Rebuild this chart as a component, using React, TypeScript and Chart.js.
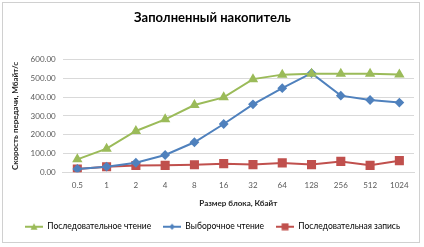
import React, { useEffect, useRef } from "react";
import { Chart, registerables } from "chart.js";

Chart.register(...registerables);

const categories = ["0.5", "1", "2", "4", "8", "16", "32", "64", "128", "256", "512", "1024"];
const seqRead = [69, 126, 220, 282, 358, 399, 496, 520, 525, 525, 525, 521];
const randRead = [18, 30, 51, 92, 160, 257, 362, 448, 528, 408, 385, 371];
const seqWrite = [18, 30, 36, 37, 40, 46, 41, 50, 41, 58, 37, 62];
const seriesNames = ["Последовательное чтение", "Выборочное чтение", "Последовательная запись"];
const chartTitle = "Заполненный накопитель";
const xTitle = "Размер блока, Кбайт";
const yTitle = "Скорость передачи, Мбайт/с";

const GREEN = "#9BBB59";
const BLUE = "#4F81BD";
const RED = "#C0504D";
const FONT = "Lato, 'Open Sans', sans-serif";

function legendIcon(color: string, style: string): HTMLCanvasElement {
  const c = document.createElement("canvas");
  c.width = 18;
  c.height = 8;
  const ctx = c.getContext("2d")!;
  ctx.strokeStyle = color;
  ctx.fillStyle = color;
  ctx.lineWidth = 2;
  ctx.beginPath();
  ctx.moveTo(0, 4);
  ctx.lineTo(18, 4);
  ctx.stroke();
  ctx.beginPath();
  if (style === "triangle") {
    ctx.moveTo(9, 0.5);
    ctx.lineTo(12.5, 7);
    ctx.lineTo(5.5, 7);
  } else if (style === "rectRot") {
    ctx.moveTo(9, 1);
    ctx.lineTo(12, 4);
    ctx.lineTo(9, 7);
    ctx.lineTo(6, 4);
  } else {
    ctx.rect(5.5, 0.5, 7, 7);
  }
  ctx.closePath();
  ctx.fill();
  return c;
}

const borderPlugin = {
  id: "outerBorder",
  beforeDraw(chart: any) {
    const ctx = chart.ctx;
    ctx.save();
    ctx.fillStyle = "#ffffff";
    ctx.fillRect(0, 0, chart.width, chart.height);
    ctx.strokeStyle = "#d0d0d0";
    ctx.lineWidth = 1;
    ctx.strokeRect(2.5, 2.5, 417, 240);
    ctx.restore();
  },
};

export default function App() {
  const ref = useRef<HTMLCanvasElement>(null);
  useEffect(() => {
    document.body.style.margin = "0";
    const styles = ["triangle", "rectRot", "rect"];
    const colors = [GREEN, BLUE, RED];
    const icons = colors.map((c, i) => legendIcon(c, styles[i]));
    const chart = new Chart(ref.current!, {
      type: "line",
      data: {
        labels: categories,
        datasets: [
          {
            label: seriesNames[0],
            data: seqRead,
            borderColor: GREEN,
            backgroundColor: GREEN,
            pointStyle: "triangle",
            pointRadius: 4,
            borderWidth: 2,
          },
          {
            label: seriesNames[1],
            data: randRead,
            borderColor: BLUE,
            backgroundColor: BLUE,
            pointStyle: "rectRot",
            pointRadius: 3.5,
            borderWidth: 2,
          },
          {
            label: seriesNames[2],
            data: seqWrite,
            borderColor: RED,
            backgroundColor: RED,
            pointStyle: "rect",
            pointRadius: 5,
            borderWidth: 2,
          },
        ],
      },
      options: {
        animation: false,
        responsive: false,
        maintainAspectRatio: false,
        layout: { padding: { left: 11, right: 10, top: 4, bottom: 6 } },
        plugins: {
          title: {
            display: true,
            text: chartTitle,
            color: "#000000",
            font: { family: FONT, size: 13, weight: "bold" },
            padding: { top: 6, bottom: 34 },
          },
          legend: {
            position: "bottom",
            labels: {
              usePointStyle: true,
              pointStyleWidth: 18,
              boxHeight: 8,
              color: "#595959",
              font: { family: FONT, size: 8.5 },
              padding: 12,
              generateLabels: () =>
                seriesNames.map((n, i) => ({
                  text: n,
                  pointStyle: icons[i],
                  fillStyle: colors[i],
                  strokeStyle: colors[i],
                  lineWidth: 0,
                  datasetIndex: i,
                  hidden: false,
                })),
            },
          },
          tooltip: { enabled: false },
        },
        scales: {
          x: {
            offset: true,
            grid: { display: false, drawTicks: false },
            border: { display: true, color: "#d9d9d9" },
            ticks: { color: "#595959", font: { family: FONT, size: 8 }, padding: 8, maxRotation: 0 },
            title: {
              display: true,
              text: xTitle,
              color: "#262626",
              font: { family: FONT, size: 8, weight: "bold" },
              padding: { top: 1, bottom: 2 },
            },
          },
          y: {
            min: 0,
            max: 600,
            grid: { color: "#d9d9d9", drawTicks: false },
            border: { display: false },
            ticks: {
              stepSize: 100,
              color: "#595959",
              font: { family: FONT, size: 8 },
              padding: 7,
              callback: (v: any) => Number(v).toFixed(2),
            },
            title: {
              display: true,
              text: yTitle,
              color: "#262626",
              font: { family: FONT, size: 8, weight: "bold" },
              padding: { top: 0, bottom: 3 },
            },
          },
        },
      },
      plugins: [borderPlugin],
    });
    return () => chart.destroy();
  }, []);
  return (
    <div style={{ width: 424, height: 247, position: "relative" }}>
      <canvas ref={ref} width={424} height={247} style={{ width: 424, height: 247, display: "block" }} />
    </div>
  );
}
